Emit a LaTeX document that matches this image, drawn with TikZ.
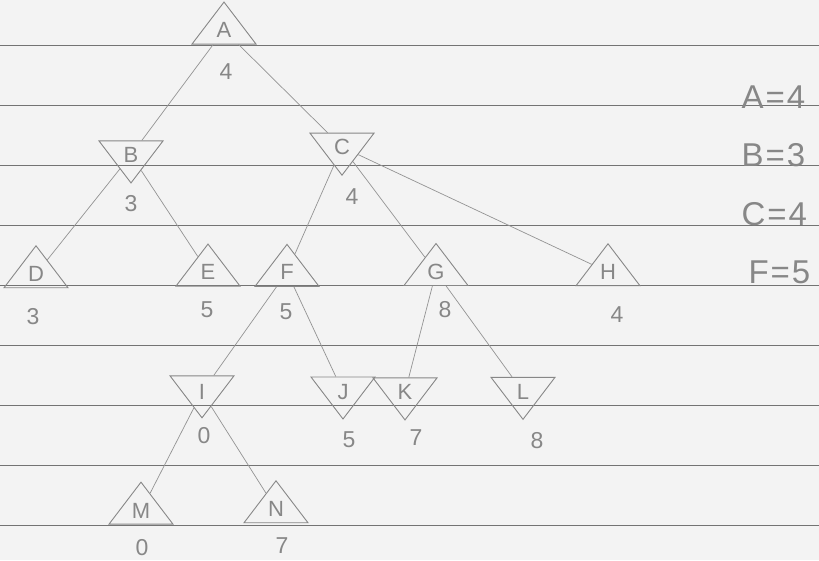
\documentclass[tikz,border=0pt]{standalone}
\usepackage{fontspec}
\setmainfont{Liberation Sans}
\usetikzlibrary{shapes.geometric}
\definecolor{paper}{RGB}{243,243,243}
\definecolor{rule}{RGB}{115,115,115}
\definecolor{pencil}{RGB}{135,135,135}
\tikzset{
  tri/.style={draw=pencil, line width=0.9pt, isosceles triangle, isosceles triangle stretches,
    minimum width=64, minimum height=42, inner sep=0pt, text=pencil,
    font=\fontsize{22}{22}\selectfont},
  maxnode/.style={tri, shape border rotate=90},
  minnode/.style={tri, shape border rotate=270},
  val/.style={text=pencil, font=\fontsize{23}{23}\selectfont},
  res/.style={text=pencil, font=\fontsize{33}{33}\selectfont, anchor=west},
  edge/.style={draw=pencil!90, line width=0.7pt},
  paperline/.style={draw=rule, line width=0.8pt}
}
\begin{document}
\begin{tikzpicture}[x=1pt,y=-1pt]
\fill[paper] (0,0) rectangle (819,560);
\useasboundingbox (0,0) rectangle (819,560);
\foreach \yy in {45,105,165,225,285,345,405,465,525}
  \draw[paperline] (0,\yy) -- (819,\yy);

\node[maxnode] (A) at (224,30) {A};
\node[minnode] (B) at (131,155) {B};
\node[minnode] (C) at (342,147) {C};
\node[maxnode] (D) at (36,274) {D};
\node[maxnode] (E) at (208,272) {E};
\node[maxnode] (F) at (287,272) {F};
\node[maxnode] (G) at (436,272) {G};
\node[maxnode] (H) at (608,272) {H};
\node[minnode] (I) at (202,392) {I};
\node[minnode] (J) at (343,392) {J};
\node[minnode] (K) at (405,392) {K};
\node[minnode] (L) at (523,392) {L};
\node[maxnode] (M) at (141,511) {M};
\node[maxnode] (N) at (276,509) {N};

\node[val] (vA) at (226,72) {4};
\node[val] (vB) at (131,204) {3};
\node[val] (vC) at (352,197) {4};
\node[val] (vD) at (33,317) {3};
\node[val] (vE) at (207,310) {5};
\node[val] (vF) at (286,312) {5};
\node[val] (vG) at (445,310) {8};
\node[val] (vH) at (617,315) {4};
\node[val] (vI) at (204,436) {0};
\node[val] (vJ) at (349,440) {5};
\node[val] (vK) at (416,438) {7};
\node[val] (vL) at (537,441) {8};
\node[val] (vM) at (142,548) {0};
\node[val] (vN) at (282,546) {7};

\draw[edge] (A) -- (B);
\draw[edge] (A) -- (C);
\draw[edge] (B) -- (D);
\draw[edge] (B) -- (E);
\draw[edge] (C) -- (F);
\draw[edge] (C) -- (G);
\draw[edge] (C) -- (H);
\draw[edge] (F) -- (I);
\draw[edge] (F) -- (J);
\draw[edge] (G) -- (K);
\draw[edge] (G) -- (L);
\draw[edge] (I) -- (M);
\draw[edge] (I) -- (N);

\node[res] (rA) at (738,97) {A\hspace{2pt}=\hspace{2pt}4};
\node[res] (rB) at (738,155) {B\hspace{2pt}=\hspace{2pt}3};
\node[res] (rC) at (738,214) {C\hspace{2pt}=\hspace{2pt}4};
\node[res] (rF) at (745,272) {F\hspace{2pt}=\hspace{2pt}5};
\end{tikzpicture}
\end{document}
